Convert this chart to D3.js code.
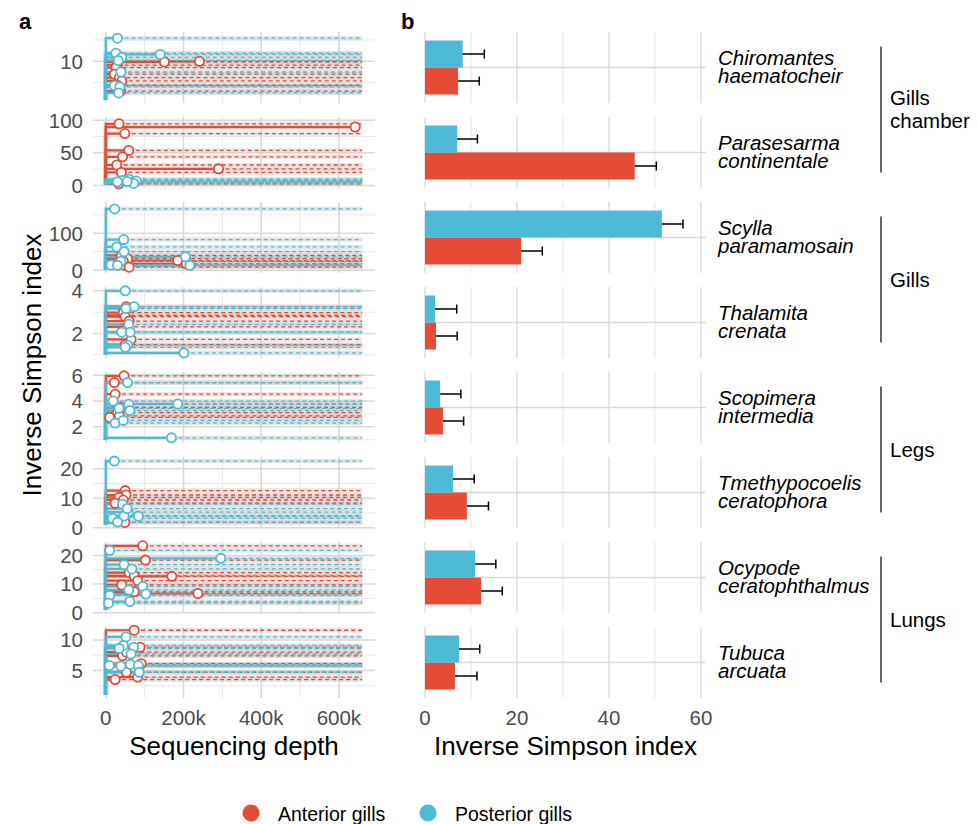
<!DOCTYPE html>
<html>
<head>
<meta charset="utf-8">
<script src="https://cdn.jsdelivr.net/npm/d3@7"></script>
<style>
  body { margin: 0; background: #fff; }
  text { font-family: "Liberation Sans", Arial, sans-serif; }
</style>
</head>
<body>
<div id="chart"></div>
<script>
// ---- data ----
const species = [
  ["Chiromantes", "haematocheir"],
  ["Parasesarma", "continentale"],
  ["Scylla", "paramamosain"],
  ["Thalamita", "crenata"],
  ["Scopimera", "intermedia"],
  ["Tmethypocoelis", "ceratophora"],
  ["Ocypode", "ceratophthalmus"],
  ["Tubuca", "arcuata"]
];
const habitats = ["Gills chamber", "Gills", "Legs", "Lungs"];
const tissues = ["Anterior gills", "Posterior gills"];
const colors = ["#E64B35", "#4DBBD5"];

// panel b: mean inverse Simpson index and mean + sd
const anteriorMean  = [7.2, 45.6, 20.9, 2.4, 3.9, 9.1, 12.2, 6.5];
const anteriorUpper = [11.8, 50.3, 25.5, 7.0, 8.4, 13.8, 16.8, 11.3];
const posteriorMean  = [8.2, 7.0, 51.5, 2.2, 3.3, 6.1, 10.9, 7.4];
const posteriorUpper = [12.9, 11.4, 56.1, 6.9, 7.8, 10.7, 15.4, 11.9];

// panel a: samples as [observed depth (k reads), inverse Simpson]
const anteriorSamples = [
  [[241,10.0],[151,9.85],[30,9.1],[26,8.5],[22,7.0],[35,6.2],[41,5.4],[30,4.4],[38,3.0]],
  [[34,94.5],[642,89.5],[49,79.6],[59,53.7],[43,43.8],[28,31.3],[290,25.4],[40,19.9],[33,2.5]],
  [[56,31],[185,26],[49,13],[207,17],[40,40],[45,24],[60,8]],
  [[53,3.26],[47,2.85],[45,2.98],[50,2.79],[60,2.58],[55,2.31],[65,1.72],[50,1.48]],
  [[47,5.95],[22,5.43],[24,4.53],[39,3.5],[30,3.1],[10,2.73],[35,2.85]],
  [[50,12.6],[52,11.1],[34,10.3],[45,9.4],[24,8.3],[49,1.8]],
  [[95,23.4],[102,18.4],[60,14.0],[73,12.9],[170,12.7],[82,11.2],[41,9.7],[73,7.3],[237,6.7]],
  [[73,11.6],[88,8.8],[43,7.4],[53,8.0],[91,6.1],[53,4.7],[82,3.9],[24,3.5]]
];
const posteriorSamples = [
  [[30,15.4],[26,11.9],[140,11.6],[41,10.9],[32,10.2],[39,7.5],[22,4.3],[36,4.0],[33,2.6]],
  [[43,7.7],[60,9.5],[69,4.6],[78,6.7],[72,3.0],[30,5.5],[55,6.0]],
  [[23,166],[46,83],[28,63],[47,50],[39,24],[13,14],[30,13],[205,36],[216,13]],
  [[50,4.0],[73,3.26],[52,3.17],[59,2.43],[41,2.06],[63,2.06],[56,1.45],[50,1.35],[201,1.09]],
  [[56,5.43],[19,4.0],[59,3.75],[34,3.44],[185,3.77],[62,3.26],[24,2.29],[45,2.5],[169,1.15]],
  [[22,22.6],[43,8.0],[58,5.3],[84,3.9],[47,4.0],[17,3.2],[30,1.9],[55,6.5]],
  [[10,21.8],[296,19.0],[47,16.8],[67,15.3],[95,9.2],[59,7.9],[103,6.5],[10,6.0],[7,3.3],[62,3.9]],
  [[52,10.5],[45,9.1],[34,8.6],[72,8.8],[65,7.7],[9,5.8],[39,5.7],[63,6.0],[84,5.8],[86,4.7]]
];
const ciTop = [16.1, 100, 176, 4.03, 6.0, 22.9, 23.6, 11.6]; // upper CI of highest curve
const extrapolateTo = 660; // k reads
const startValue = 1;

const yTicks = [[10], [0,50,100], [0,100], [2,4], [2,4,6], [0,10,20], [0,10,20], [5,10]];
const yMinor = [[5,15], [25,75], [50,150], [1,3], [1,3,5], [5,15], [5,15], [2.5,7.5]];
const xTicksA = [0, 200, 400, 600], xMinorA = [100, 300, 500];
const xTicksB = [0, 20, 40, 60], xMinorB = [10, 30, 50];

// ---- layout ----
const width = 977, height = 824;
const rowTop = 32, rowStep = 85, rowH = 71;
const aLeft = 93, aRight = 375, bLeft = 425, bRight = 706;
const gridMajor = "#d9d9d9", gridMinor = "#e6e6e6";
const fs = 20.5;

const svg = d3.select("#chart").append("svg")
    .attr("width", width)
    .attr("height", height);

const x = d3.scaleLinear()
    .domain([-0.05 * extrapolateTo, 1.05 * extrapolateTo])
    .range([aLeft, aRight]);
const xb = d3.scaleLinear().domain([0, 61.1]).range([bLeft, bRight]);

const line = d3.line().x(d => x(d[0]));

species.forEach((sp, i) => {
  const top = rowTop + i * rowStep, bottom = top + rowH;
  const all = anteriorSamples[i].concat(posteriorSamples[i]);
  const hi = Math.max(ciTop[i], d3.max(all, d => d[1]));
  const pad = (hi - startValue) * 0.05;
  const y = d3.scaleLinear().domain([startValue - pad, hi + pad]).range([bottom, top]);
  const inY = v => v >= y.domain()[0] && v <= y.domain()[1];
  line.y(d => y(d[1]));

  // --- panel a grid
  const ga = svg.append("g");
  ga.selectAll(".hmin").data(yMinor[i].filter(inY)).join("line")
      .attr("x1", aLeft).attr("x2", aRight)
      .attr("y1", d => y(d)).attr("y2", d => y(d))
      .attr("stroke", gridMinor).attr("stroke-width", 0.9);
  ga.selectAll(".vmin").data(xMinorA).join("line")
      .attr("x1", d => x(d)).attr("x2", d => x(d))
      .attr("y1", top).attr("y2", bottom)
      .attr("stroke", gridMinor).attr("stroke-width", 0.9);
  ga.selectAll(".hmaj").data(yTicks[i].filter(inY)).join("line")
      .attr("x1", aLeft).attr("x2", aRight)
      .attr("y1", d => y(d)).attr("y2", d => y(d))
      .attr("stroke", gridMajor).attr("stroke-width", 1.5);
  ga.selectAll(".vmaj").data(xTicksA).join("line")
      .attr("x1", d => x(d)).attr("x2", d => x(d))
      .attr("y1", top).attr("y2", bottom)
      .attr("stroke", gridMajor).attr("stroke-width", 1.5);
  ga.selectAll(".ylab").data(yTicks[i].filter(inY)).join("text")
      .attr("x", 83).attr("y", d => y(d)).attr("dy", "0.36em")
      .attr("text-anchor", "end").attr("font-size", fs).attr("fill", "#4d4d4d")
      .text(d => d);

  const sets = [anteriorSamples[i], posteriorSamples[i]];
  // ribbons
  sets.forEach((s, k) => {
    ga.append("g").selectAll("path").data(s).join("path")
        .attr("d", d => line([[0, startValue], [0, d[1]], [extrapolateTo, d[1]]]))
        .attr("fill", "none").attr("stroke", "#c8c8c8")
        .attr("stroke-opacity", 0.45).attr("stroke-width", 4.5);
  });
  // curves
  sets.forEach((s, k) => {
    const g = ga.append("g").attr("stroke", colors[k]).attr("fill", "none");
    g.selectAll(".obs").data(s).join("path")
        .attr("d", d => line([[0, startValue], [0, d[1]], [d[0], d[1]]]))
        .attr("stroke-width", 2.2);
    g.selectAll(".ext").data(s).join("path")
        .attr("d", d => line([[d[0], d[1]], [extrapolateTo, d[1]]]))
        .attr("stroke-width", 1.3).attr("stroke-dasharray", "4,3");
  });
  sets.forEach((s, k) => {
    ga.append("g").selectAll("circle").data(s).join("circle")
        .attr("cx", d => x(d[0])).attr("cy", d => y(d[1])).attr("r", 4.6)
        .attr("fill", "#fff").attr("stroke", colors[k]).attr("stroke-width", 1.8);
  });

  // --- panel b
  const gb = svg.append("g");
  const center = top + rowH / 2;
  const yb = d3.scaleBand().domain([tissues[1], tissues[0]]).range([center - 27, center + 27]);
  gb.selectAll(".vmin").data(xMinorB).join("line")
      .attr("x1", d => xb(d)).attr("x2", d => xb(d))
      .attr("y1", top).attr("y2", bottom)
      .attr("stroke", gridMinor).attr("stroke-width", 1);
  gb.selectAll(".vmaj").data(xTicksB).join("line")
      .attr("x1", d => xb(d)).attr("x2", d => xb(d))
      .attr("y1", top).attr("y2", bottom)
      .attr("stroke", gridMajor).attr("stroke-width", 1.3);
  gb.append("line")
      .attr("x1", bLeft).attr("x2", bRight)
      .attr("y1", center).attr("y2", center)
      .attr("stroke", gridMajor).attr("stroke-width", 1.3);

  const bars = [
    { t: tissues[0], mean: anteriorMean[i], upper: anteriorUpper[i], c: colors[0] },
    { t: tissues[1], mean: posteriorMean[i], upper: posteriorUpper[i], c: colors[1] }
  ];
  gb.selectAll("rect").data(bars).join("rect")
      .attr("x", xb(0)).attr("y", d => yb(d.t))
      .attr("width", d => xb(d.mean) - xb(0)).attr("height", yb.bandwidth())
      .attr("fill", d => d.c);
  gb.selectAll(".err").data(bars).join("path")
      .attr("d", d => {
        const cy = yb(d.t) + yb.bandwidth() / 2;
        return `M${xb(d.mean)},${cy}H${xb(d.upper)}M${xb(d.upper)},${cy - 4.5}V${cy + 4.5}`;
      })
      .attr("stroke", "#000").attr("stroke-width", 1.5).attr("fill", "none");

  // species label
  gb.append("text")
      .attr("x", 718).attr("y", center - 3)
      .attr("font-size", fs).attr("font-style", "italic").attr("fill", "#000")
      .call(t => t.append("tspan").text(sp[0]))
      .call(t => t.append("tspan").attr("x", 718).attr("dy", 18.5).text(sp[1]));
});

// habitat brackets
habitats.forEach((h, j) => {
  const c1 = rowTop + (2 * j) * rowStep + rowH / 2;
  const c2 = rowTop + (2 * j + 1) * rowStep + rowH / 2;
  svg.append("line")
      .attr("x1", 881).attr("x2", 881)
      .attr("y1", c1 - 21).attr("y2", c2 + 20)
      .attr("stroke", "#000").attr("stroke-width", 1.2);
  const words = h === "Gills chamber" ? ["Gills", "chamber"] : [h];
  const mid = (c1 + c2) / 2;
  const t = svg.append("text").attr("x", 890).attr("font-size", fs).attr("fill", "#000")
      .attr("y", mid + 7 - (words.length - 1) * 12);
  words.forEach((w, k) => t.append("tspan").attr("x", 890).attr("dy", k ? 23 : 0).text(w));
});

// x axes
const axisY = rowTop + 7 * rowStep + rowH;
svg.append("g").selectAll("text").data(xTicksA).join("text")
    .attr("x", d => x(d)).attr("y", axisY + 27)
    .attr("text-anchor", "middle").attr("font-size", fs).attr("fill", "#4d4d4d")
    .text(d => d === 0 ? "0" : d + "k");
svg.append("g").selectAll("text").data(xTicksB).join("text")
    .attr("x", d => xb(d)).attr("y", axisY + 27)
    .attr("text-anchor", "middle").attr("font-size", fs).attr("fill", "#4d4d4d")
    .text(d => d);

// titles
svg.append("text").attr("x", (aLeft + aRight) / 2).attr("y", axisY + 57)
    .attr("text-anchor", "middle").attr("font-size", 26).text("Sequencing depth");
svg.append("text").attr("x", (bLeft + bRight) / 2).attr("y", axisY + 57)
    .attr("text-anchor", "middle").attr("font-size", 26).text("Inverse Simpson index");
svg.append("text")
    .attr("transform", `translate(41,${rowTop + (7 * rowStep + rowH) / 2}) rotate(-90)`)
    .attr("text-anchor", "middle").attr("font-size", 26).text("Inverse Simpson index");
svg.append("text").attr("x", 19).attr("y", 29).attr("font-size", 22)
    .attr("font-weight", "bold").text("a");
svg.append("text").attr("x", 401).attr("y", 29).attr("font-size", 22)
    .attr("font-weight", "bold").text("b");

// legend
const legend = svg.append("g").attr("transform", "translate(0,813)");
const lx = [251, 428];
tissues.forEach((t, k) => {
  legend.append("circle").attr("cx", lx[k]).attr("cy", 0).attr("r", 8.5).attr("fill", colors[k]);
  legend.append("text").attr("x", lx[k] + 27).attr("y", 7.5).attr("font-size", 19.5).text(t);
});
</script>
</body>
</html>
